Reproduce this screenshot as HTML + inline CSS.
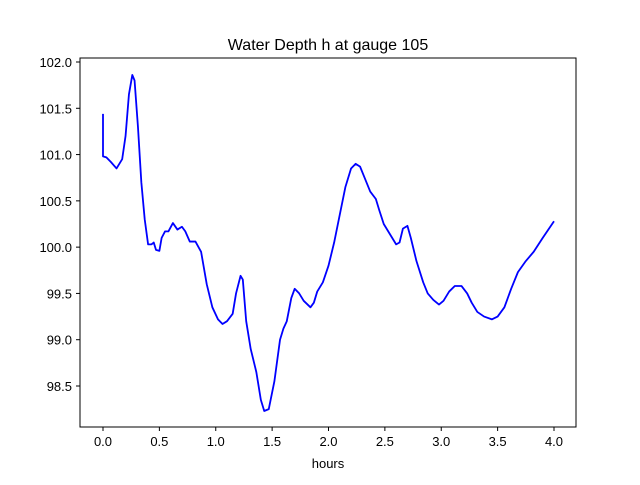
<!DOCTYPE html>
<html><head><meta charset="utf-8"><style>
body{margin:0;background:#fff}
svg text{font-family:"Liberation Sans","DejaVu Sans",sans-serif;fill:#000}
</style></head><body>
<svg id="chart" width="640" height="480">
<rect x="0" y="0" width="640" height="480" fill="#fff"/>
<g id="ticks"></g>
<polyline id="line" fill="none" stroke="#0000ff" stroke-width="1.8" stroke-linejoin="round"/>
<rect x="80" y="58" width="496" height="369" fill="none" stroke="#000" stroke-width="1"/>
<text x="328" y="50" text-anchor="middle" font-size="16">Water Depth h at gauge 105</text>
<text x="328" y="468" text-anchor="middle" font-size="13">hours</text>
</svg>
<script>
const hours=[0,0,0.03,0.07,0.12,0.17,0.2,0.23,0.26,0.28,0.31,0.34,0.37,0.4,0.43,0.45,0.47,0.5,0.52,0.55,0.58,0.62,0.66,0.7,0.73,0.77,0.82,0.87,0.92,0.97,1.02,1.06,1.1,1.15,1.18,1.22,1.24,1.27,1.31,1.36,1.4,1.43,1.47,1.52,1.57,1.6,1.63,1.67,1.7,1.74,1.78,1.84,1.87,1.9,1.95,2.0,2.05,2.1,2.15,2.2,2.24,2.28,2.32,2.37,2.42,2.45,2.49,2.55,2.6,2.63,2.66,2.7,2.73,2.78,2.84,2.88,2.93,2.98,3.02,3.07,3.12,3.18,3.23,3.27,3.32,3.38,3.45,3.5,3.56,3.62,3.68,3.75,3.82,3.9,4.0];
const depth=[101.44,100.98,100.97,100.92,100.85,100.95,101.2,101.65,101.86,101.8,101.3,100.7,100.3,100.03,100.03,100.05,99.97,99.96,100.1,100.17,100.17,100.26,100.19,100.22,100.17,100.06,100.06,99.95,99.6,99.35,99.22,99.17,99.2,99.28,99.5,99.69,99.65,99.2,98.9,98.65,98.35,98.23,98.25,98.55,99.0,99.12,99.2,99.45,99.55,99.5,99.42,99.35,99.4,99.52,99.62,99.8,100.05,100.35,100.65,100.85,100.9,100.87,100.75,100.6,100.52,100.4,100.25,100.13,100.03,100.05,100.2,100.23,100.1,99.85,99.62,99.5,99.43,99.38,99.42,99.52,99.58,99.58,99.5,99.4,99.3,99.25,99.22,99.25,99.35,99.55,99.73,99.85,99.95,100.1,100.28];
const xTicks=[0,0.5,1,1.5,2,2.5,3,3.5,4];
const yTicks=[98.5,99,99.5,100,100.5,101,101.5,102];
const xs=v=>103+v*112.75;
const ys=v=>62+(102-v)*92.57;
const NS="http://www.w3.org/2000/svg";
const g=document.getElementById('ticks');
xTicks.forEach(t=>{
  const l=document.createElementNS(NS,'line');
  l.setAttribute('x1',xs(t));l.setAttribute('x2',xs(t));l.setAttribute('y1',427);l.setAttribute('y2',431);l.setAttribute('stroke','#000');
  
  
  g.appendChild(l);
  const tx=document.createElementNS(NS,'text');
  tx.setAttribute('x',xs(t));tx.setAttribute('y',446);tx.setAttribute('text-anchor','middle');tx.setAttribute('font-size','13');
  tx.textContent=t.toFixed(1);
  
  
  g.appendChild(tx);
});
yTicks.forEach(t=>{
  const l=document.createElementNS(NS,'line');
  l.setAttribute('x1',76);l.setAttribute('x2',80);l.setAttribute('y1',ys(t));l.setAttribute('y2',ys(t));l.setAttribute('stroke','#000');
  
  
  g.appendChild(l);
  const tx=document.createElementNS(NS,'text');
  tx.setAttribute('x',72);tx.setAttribute('y',ys(t)+5);tx.setAttribute('text-anchor','end');tx.setAttribute('font-size','13');
  tx.textContent=t.toFixed(1);
  
  
  g.appendChild(tx);
});
document.getElementById('line').setAttribute('points',hours.map((h,i)=>xs(h)+','+ys(depth[i])).join(' '));
</script>
</body></html>
